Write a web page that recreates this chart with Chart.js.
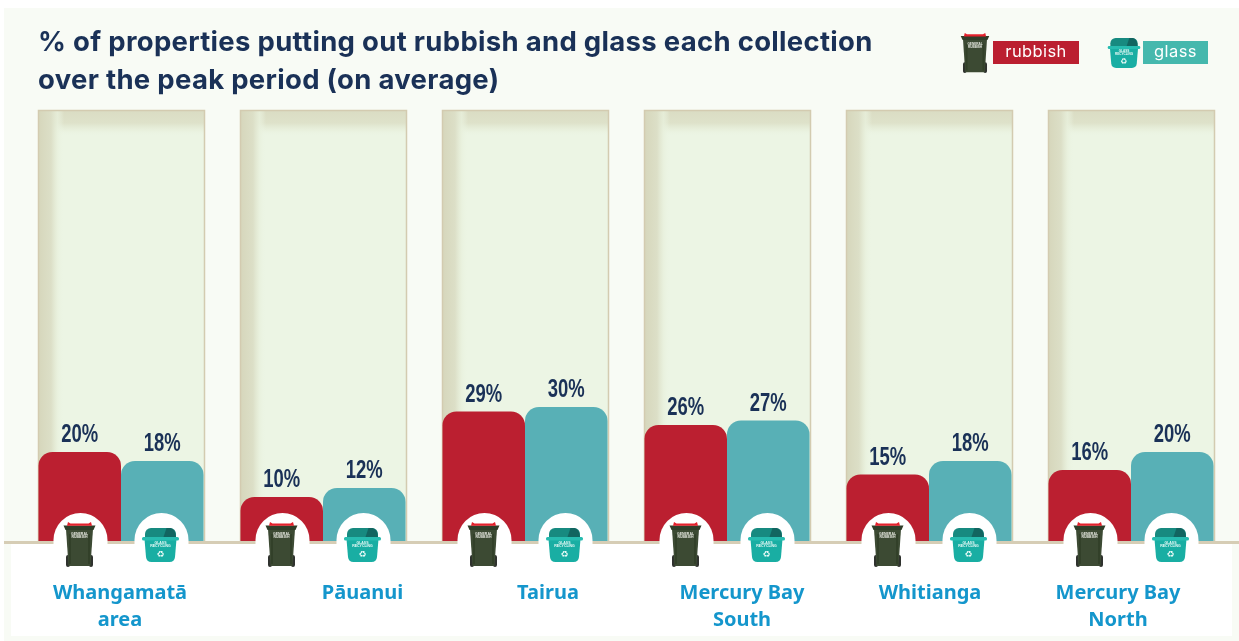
<!DOCTYPE html>
<html><head><meta charset="utf-8">
<style>html,body{margin:0;padding:0;background:#fff}canvas{display:block}#w{width:1239px;height:641px;position:relative}</style>
<script src="https://cdn.jsdelivr.net/npm/chart.js@4/dist/chart.umd.min.js"></script>
</head><body><div id="w"><canvas id="c" width="1239" height="641"></canvas></div>
<script>
const categories=[["Whangamatā","area"],["Pāuanui"],["Tairua"],["Mercury Bay","South"],["Whitianga"],["Mercury Bay","North"]];
const rubbish=[20,10,29,26,15,16];
const glass=[18,12,30,27,18,20];
const titleLines=["% of properties putting out rubbish and glass each collection","over the peak period (on average)"];
const labelNudge=[-1,39.5,23,15,1,-13];
const NAVY="#1a3157",BLUE="#1496cc",RED="#bb1f30",TEAL="#58b0b6",LEG="#45b8ad";

function rubbishBin(g,cx,top,s){
  g.save();g.translate(cx,top);g.scale(s,s);
  g.fillStyle="#2f322e";g.beginPath();g.roundRect(-13.5,33,4,12,2);g.roundRect(9.5,33,4,12,2);g.fill();
  g.fillStyle="#3c4a33";g.beginPath();g.moveTo(-13.5,7);g.lineTo(13.5,7);g.lineTo(11,44);g.lineTo(-11,44);g.closePath();g.fill();
  g.fillStyle="#324029";g.fillRect(-10.5,12,2,30);g.fillRect(8.5,12,2,30);
  g.fillStyle="#2f3d29";g.beginPath();g.moveTo(-16,3.5);g.lineTo(16,3.5);g.lineTo(14,8);g.lineTo(-14,8);g.closePath();g.fill();
  g.fillStyle="#e4202c";g.beginPath();g.moveTo(-12.5,3.8);g.lineTo(-11.5,0);g.lineTo(-9,1.5);g.lineTo(9,1.5);g.lineTo(11.5,0);g.lineTo(12.5,3.8);g.closePath();g.fill();
  g.fillStyle="#e6e8e0";g.textAlign="center";g.textBaseline="middle";g.font="700 3.5px 'Liberation Sans'";
  g.fillText("GENERAL",0,12);g.fillText("RUBBISH",0,15.5);
  g.restore();
}
function glassBin(g,cx,top,s){
  g.save();g.translate(cx,top);g.scale(s,s);
  g.fillStyle="#19aea3";g.beginPath();g.moveTo(-16,11);g.lineTo(16,11);g.lineTo(14.5,29);g.quadraticCurveTo(14,34,9,34);g.lineTo(-9,34);g.quadraticCurveTo(-14,34,-14.5,29);g.closePath();g.fill();
  g.fillStyle="#178a80";g.beginPath();g.roundRect(-15.5,0,31,11,[6,6,0,0]);g.fill();
  g.fillStyle="#126560";g.beginPath();g.moveTo(3,9);g.lineTo(6,0);g.lineTo(10,0);g.quadraticCurveTo(15,1,15.5,9);g.closePath();g.fill();
  g.fillStyle="#27bcb0";g.beginPath();g.roundRect(-18.5,9,37,3.5,1.5);g.fill();
  g.fillStyle="#eafaf7";g.textAlign="center";g.textBaseline="middle";g.font="700 3.5px 'Liberation Sans'";
  g.fillText("GLASS",0,15);g.fillText("RECYCLING",0,18.5);
  g.font="9px 'DejaVu Sans'";g.fillText("♻",0,27);
  g.restore();
}
const art={id:"art",
 beforeDraw(c){const g=c.ctx,x=c.scales.x,A=c.chartArea;
  g.save();
  g.fillStyle="#fff";g.fillRect(0,0,1239,641);
  g.fillStyle="#f8fbf5";g.fillRect(4,8,1235,633);
  g.fillStyle="#fff";g.fillRect(11,543,1221,93);
  categories.forEach((_,i)=>{
    const cx=x.getPixelForTick(i),L=Math.round(cx-83.5),W=167,T=A.top,H=A.bottom-T;
    g.fillStyle="#ecf5e4";g.fillRect(L,T,W,H);
    let gr=g.createLinearGradient(0,T,0,T+26);gr.addColorStop(0,"#dadcc3");gr.addColorStop(.5,"#dee2ca");gr.addColorStop(.8,"rgba(232,240,220,.7)");gr.addColorStop(1,"rgba(236,245,228,0)");
    g.fillStyle=gr;g.fillRect(L,T,W,26);
    gr=g.createLinearGradient(L,0,L+26,0);gr.addColorStop(0,"#d6d6bb");gr.addColorStop(.5,"#dcdfc7");gr.addColorStop(.75,"rgba(232,240,220,.8)");gr.addColorStop(1,"rgba(236,245,228,0)");
    g.fillStyle=gr;g.fillRect(L,T,26,H);
    g.strokeStyle="#d3cbb0";g.lineWidth=1.5;g.strokeRect(L+.5,T+.5,W-1,H);
  });
  g.restore();
 },
 afterDatasetsDraw(c){const g=c.ctx,x=c.scales.x,A=c.chartArea;
  g.save();
  g.fillStyle=NAVY;g.textAlign="center";g.textBaseline="middle";
  c.data.datasets.forEach((d,di)=>{c.getDatasetMeta(di).data.forEach((b,i)=>{
    g.save();g.translate(b.x,b.y-17);g.scale(.71,1);
    g.font="700 26px 'Liberation Sans'";g.fillText(d.data[i]+"%",0,0);g.restore();
  });});
  g.fillStyle="#d6cdb5";g.fillRect(4,A.bottom-1,1235,3);
  categories.forEach((lab,i)=>{
    const cx=x.getPixelForTick(i);
    [cx-40.5,cx+40.5].forEach(p=>{g.fillStyle="#fff";g.beginPath();g.arc(p,A.bottom-2,27,Math.PI,2*Math.PI);g.fill();g.fillRect(p-27,A.bottom-2,54,28);});
    rubbishBin(g,cx-41.5,522,1);
    glassBin(g,cx+39.5,528,1);
    g.fillStyle=BLUE;g.font="700 20px 'Noto Sans'";g.textAlign="center";g.textBaseline="middle";
    lab.forEach((t,k)=>g.fillText(t,cx+labelNudge[i],593+k*27));
  });
  g.fillStyle=NAVY;g.textAlign="left";g.textBaseline="middle";g.font="700 27.5px Inter";g.letterSpacing="0.3px";
  titleLines.forEach((t,k)=>g.fillText(t,38,42.5+k*38));
  g.letterSpacing="0px";
  rubbishBin(g,975,33,.89);
  g.fillStyle=RED;g.fillRect(993,41,86,23);
  glassBin(g,1124,38,.88);
  g.fillStyle=LEG;g.fillRect(1143,41,65,23);
  g.fillStyle="#fff";g.font="400 16.5px Inter";g.letterSpacing="0.4px";g.textAlign="center";g.textBaseline="middle";
  g.fillText(c.data.datasets[0].label,1036,52.5);g.fillText(c.data.datasets[1].label,1175.5,52.5);
  g.restore();
 }};
new Chart(document.getElementById("c"),{type:"bar",
 data:{labels:categories,datasets:[
  {label:"rubbish",data:rubbish,backgroundColor:RED,borderRadius:{topLeft:14,topRight:14},borderSkipped:"bottom",categoryPercentage:.817,barPercentage:1},
  {label:"glass",data:glass,backgroundColor:TEAL,borderRadius:{topLeft:14,topRight:14},borderSkipped:"bottom",categoryPercentage:.817,barPercentage:1}]},
 options:{responsive:false,animation:false,
  layout:{padding:{left:20,right:7,top:110,bottom:99}},
  plugins:{legend:{display:false},tooltip:{enabled:false}},
  scales:{x:{display:false},y:{display:false,min:0,max:96}}},
 plugins:[art]});
</script></body></html>
